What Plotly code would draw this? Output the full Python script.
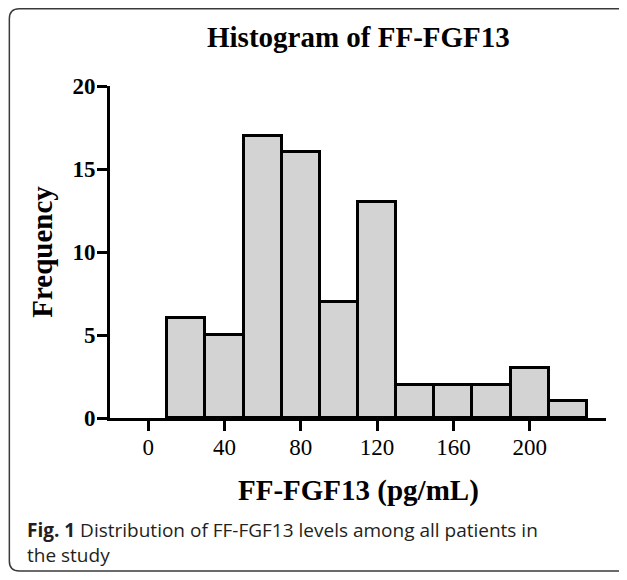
import plotly.graph_objects as go

# Data
bin_centers = [0, 20, 40, 60, 80, 100, 120, 140, 160, 180, 200, 220]
counts = [0, 6, 5, 17, 16, 7, 13, 2, 2, 2, 3, 1]
x_ticks = [0, 40, 80, 120, 160, 200]
y_ticks = [0, 5, 10, 15, 20]

# The page body adds an 8px margin; work in page pixels and shift.
OFF = 8
W, H = 627 - 2 * OFF, 580 - 2 * OFF
L, R, T, B = 109.5 - OFF, 606 - OFF, 86 - OFF, 418 - OFF  # plot area (figure px)


def px(x):
    return (x - OFF - L) / (R - L)


def py(y):
    return (B - (y - OFF)) / (B - T)


SERIF = "Liberation Serif"

fig = go.Figure()
fig.add_trace(go.Bar(
    x=bin_centers, y=counts, width=20,
    marker=dict(color="#d3d3d3",
                line=dict(color="black", width=[3 if c > 0 else 0 for c in counts])),
    hoverinfo="skip", showlegend=False,
))

fig.update_layout(
    width=W, height=H,
    margin=dict(l=L, r=W - R, t=T, b=H - B, pad=0),
    paper_bgcolor="white", plot_bgcolor="white",
    bargap=0,
    xaxis=dict(
        range=[-20, 240], tickvals=x_ticks, ticks="outside", ticklen=10, tickwidth=3,
        tickcolor="black", showline=True, linewidth=3, linecolor="black",
        showgrid=False, zeroline=False, ticklabelstandoff=-4,
        tickfont=dict(family=SERIF, size=23, color="black"),
    ),
    yaxis=dict(
        range=[0, 20], tickvals=y_ticks, ticks="outside", ticklen=10, tickwidth=3,
        tickcolor="black", showline=True, linewidth=3, linecolor="black",
        showgrid=False, zeroline=False, ticklabelstandoff=-3,
        tickfont=dict(family=SERIF, size=23, color="black", weight="bold"),
        title=dict(text="Frequency", standoff=12,
                   font=dict(family=SERIF, size=29, color="black", weight="bold")),
    ),
)

# Main title
fig.add_annotation(text="Histogram of FF-FGF13", xref="paper", yref="paper",
                   x=0.5, y=py(37), xanchor="center", yanchor="middle", showarrow=False,
                   font=dict(family=SERIF, size=29, color="black", weight="bold"))
# X axis title
fig.add_annotation(text="FF-FGF13 (pg/mL)", xref="paper", yref="paper",
                   x=0.5, y=py(490), xanchor="center", yanchor="middle", showarrow=False,
                   font=dict(family=SERIF, size=29, color="black", weight="bold"))
# Caption
fig.add_annotation(text="<b>Fig. 1</b> Distribution of FF-FGF13 levels among all patients in<br>the study",
                   xref="paper", yref="paper", x=px(24), y=py(542), xanchor="left", yanchor="middle",
                   align="left", showarrow=False,
                   font=dict(family="Open Sans", size=19, color="#231f20"))

# Rounded border, open on the right (it runs past the right edge in the reference)
x0, x1, y0, y1, r = px(8.75), px(640), py(8.75), py(571), 10
rx, ry = r / (R - L), r / (B - T)
path = (f"M {x1},{y0} L {x0+rx},{y0} Q {x0},{y0} {x0},{y0-ry} "
        f"L {x0},{y1+ry} Q {x0},{y1} {x0+rx},{y1} L {x1},{y1}")
fig.add_shape(type="path", path=path, xref="paper", yref="paper",
              line=dict(color="#3a3a3a", width=1.5), layer="above")

fig.write_html("out.html")
